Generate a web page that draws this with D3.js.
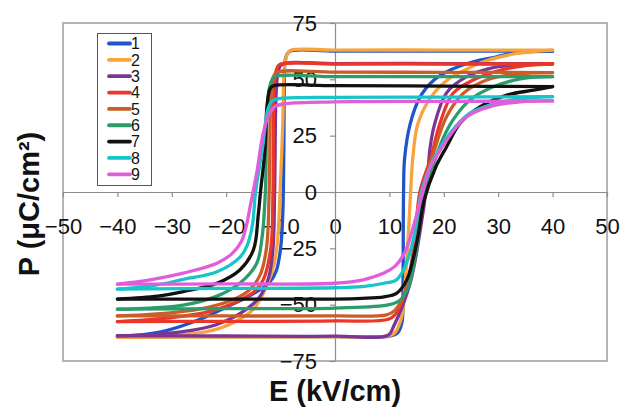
<!DOCTYPE html>
<html>
<head>
<meta charset="utf-8">
<title>P-E hysteresis loops</title>
<style>
body{margin:0;background:#fff;}
svg{display:block;font-family:Arial,"Liberation Sans",sans-serif;}
.frame{fill:none;stroke:#b4b4b4;stroke-width:2;}
.axis path,.axis line{stroke:#8c8c8c;stroke-width:1.2;}
.axis text{font-size:22px;fill:#111;}
.title{font-size:29px;font-weight:bold;fill:#111;}
.legend text{font-size:16px;fill:#111;}
.loop{fill:none;stroke-width:3.3;stroke-linejoin:round;stroke-linecap:round;}
</style>
<script src="https://d3js.org/d3.v7.min.js"></script>
</head>
<body>
<svg id="chart" width="621" height="409"></svg>
<script>
// sample names (legend)
var names = ["1","2","3","4","5","6","7","8","9"];
var xTicks = [-50,-40,-30,-20,-10,0,10,20,30,40,50];
var yTicks = [-75,-50,-25,0,25,50,75];

// each loop: "down" = field going +40 -> -40, "up" = field going -40 -> +40, points [E, P]
var down1 = [[40,62.5],[20,62.5],[0,62.5],[-8.4,62.3],[-9.1,59],[-9.3,50],[-9.4,20],[-9.6,-10],[-10,-25],[-10.8,-35],[-12,-40],[-15.6,-46],[-19.9,-51],[-24.8,-56.5],[-31,-61.5],[-37,-63.8],[-40,-64.2]];
var up1   = [[-40,-64.2],[-20,-64.2],[0,-64.2],[10,-64],[11.5,-62.5],[12.3,-58],[12.5,-40],[12.6,0],[12.8,15],[13.8,30],[15.6,42],[18.1,49.5],[21.1,54],[25.4,57.8],[29.7,60],[32.7,61.6],[40,62.5]];
var down2 = [[40,63],[20,63],[0,63],[-8.2,62.8],[-8.8,61],[-9.3,55],[-9.6,30],[-10.1,0],[-10.5,-20],[-11.2,-32],[-12.6,-42],[-15,-52],[-18.7,-58],[-23.6,-62],[-31,-63.6],[-40,-64.5]];
var up2   = [[-40,-64.5],[-20,-64.4],[0,-64.3],[9.5,-64],[11,-62.5],[12.3,-55],[12.9,-40],[13.5,-18],[13.9,0],[14.3,15],[15.2,30],[17.6,42],[20.8,50],[23.8,54],[27.5,58],[33.5,61.5],[40,63]];
var down3 = [[40,57],[20,57],[0,57],[-9.8,56.6],[-10.4,54],[-10.8,45],[-11.1,0],[-11.4,-25],[-12.2,-38],[-14,-47],[-17.5,-54],[-22,-59],[-28,-62],[-34,-63.3],[-40,-63.8]];
var up3   = [[-40,-63.8],[-20,-63.9],[0,-64],[9.8,-63.5],[10.7,-60],[13.8,-40.5],[15.6,-18],[16.9,4],[17.5,20],[18.3,30],[20.5,44],[24.2,51.2],[28.5,54.9],[34,56.6],[40,57]];
var down4 = [[40,56.8],[20,56.8],[0,56.8],[-10.2,56.5],[-10.8,54],[-11.2,45],[-11.4,0],[-11.8,-25],[-13.2,-39],[-15,-44.5],[-17.5,-48],[-23,-53],[-31,-56],[-40,-57.5]];
var up4   = [[-40,-57.5],[-20,-57.4],[0,-57.2],[9.8,-56.5],[11.2,-54],[12.8,-45],[14.5,-25],[15.6,0],[17.6,15],[19.3,30.5],[21.7,43.8],[25.4,49.7],[30.3,54],[35.3,56.2],[40,56.8]];
var down5 = [[40,53],[20,53.1],[0,53.2],[-10.8,53],[-11.4,50.5],[-11.8,42],[-12.1,0],[-12.6,-25],[-13.8,-37],[-16,-44],[-19.5,-48.5],[-25,-52],[-32,-54],[-40,-55]];
var up5   = [[-40,-55],[-20,-55],[0,-55],[9.5,-54.5],[11,-52.5],[13,-44],[15,-22],[16.2,0],[18.2,18],[20.5,33.4],[23.6,43.8],[27.9,49.7],[34,52.5],[40,53]];
var down6 = [[40,51.2],[20,51.2],[0,51.2],[-11.2,51],[-11.8,48.5],[-12.4,40],[-12.8,0],[-13.4,-20],[-14.4,-31.7],[-17.5,-40.5],[-21.7,-46.2],[-27.9,-50.2],[-34,-51.5],[-40,-52]];
var up6   = [[-40,-52],[-20,-51.8],[0,-51.5],[10,-50],[12,-47.9],[13.5,-42],[15,-25],[16.4,0],[18.2,13],[19.9,24],[21.7,32],[24.8,40.8],[29.1,46.7],[34.6,50.4],[40,51.2]];
var down7 = [[40,46.8],[20,47],[0,47.2],[-11.2,47.2],[-11.9,46],[-12.5,38],[-12.9,18],[-13.7,0],[-14.1,-10],[-15,-25.7],[-17.5,-34.6],[-21.7,-40.5],[-27.9,-44.2],[-32.6,-46.2],[-40,-47.5]];
var up7   = [[-40,-47.5],[-20,-47.5],[0,-47.5],[5,-47.2],[9,-46.5],[11.3,-45],[13.2,-39],[15,-22.8],[16.4,-3.6],[18.5,11],[20.5,20],[23,30.5],[26.7,37.9],[31.6,43],[36.5,45.2],[40,46.8]];
var down8 = [[40,42.3],[20,42.1],[0,42],[-10,41.5],[-11.5,40.5],[-12.3,37],[-13.3,20],[-14.6,0],[-15.2,-15],[-16.2,-24],[-17.5,-29],[-21.7,-35.4],[-27.9,-38.8],[-34,-41.8],[-40,-43.1]];
var up8   = [[-40,-43.1],[-20,-42.8],[0,-42.5],[5,-42],[9,-40.5],[11.3,-39],[12.9,-33],[14.5,-20],[15.9,0],[17.6,12],[19.5,20],[21.1,26],[24.8,35],[29.7,39.4],[34.6,41.5],[40,42.3]];
var down9 = [[40,40.4],[20,40.2],[0,40],[-9,39.2],[-11,38],[-12.2,34],[-13.2,26],[-14.4,8.3],[-15.6,-6.5],[-16.2,-14],[-17.2,-22],[-19,-27.5],[-21.7,-31.6],[-27.9,-36],[-34,-39],[-40,-40.9]];
var up9   = [[-40,-40.9],[-20,-40.8],[0,-40.5],[5.2,-39],[9,-36],[11,-33],[12.8,-27],[14.4,-15.4],[15.9,-2],[17.5,11],[19.2,18],[21.1,25],[24.2,33.4],[28.5,37.9],[34,40],[40,40.4]];

var downs = [down1,down2,down3,down4,down5,down6,down7,down8,down9];
var ups   = [up1,up2,up3,up4,up5,up6,up7,up8,up9];
var colors = ["#1f55c8","#f7a43e","#7b3597","#ec3629","#cb5e28","#2a9d6b","#111111","#17c5c9","#e25ddb"];

var svg = d3.select("#chart");
var plotL = 63, plotR = 607, plotT = 23, plotB = 361;

var x = d3.scaleLinear().domain([-50,50]).range([plotL,plotR]);
var y = d3.scaleLinear().domain([-75,75]).range([plotB,plotT]);

// plot area frame
svg.append("rect").attr("class","frame")
	.attr("x",plotL).attr("y",plotT)
	.attr("width",plotR-plotL).attr("height",plotB-plotT);

// axes crossing at 0
svg.append("g").attr("class","axis")
	.attr("transform","translate(0," + y(0) + ")")
	.call(d3.axisBottom(x).tickValues(xTicks).tickSize(5).tickSizeOuter(0).tickPadding(21));

svg.append("g").attr("class","axis")
	.attr("transform","translate(" + x(0) + ",0)")
	.call(d3.axisLeft(y).tickValues(yTicks).tickSize(5).tickSizeOuter(0).tickPadding(13));

svg.selectAll(".axis").attr("font-family",null).attr("font-size",null);

// loops
var line = d3.line()
	.x(function(d){ return x(d[0]); })
	.y(function(d){ return y(d[1]); })
	.curve(d3.curveCatmullRom.alpha(0.5));

var g = svg.append("g");
names.forEach(function(n,i){
	g.append("path").attr("class","loop").attr("stroke",colors[i]).attr("d",line(downs[i]));
	g.append("path").attr("class","loop").attr("stroke",colors[i]).attr("d",line(ups[i]));
});

// legend
var lg = svg.append("g").attr("class","legend");
lg.append("rect").attr("x",97.5).attr("y",33.5).attr("width",54).attr("height",152)
	.attr("fill","#fff").attr("stroke","#555").attr("stroke-width",1);
var row = lg.selectAll("g.row").data(names).enter().append("g")
	.attr("transform",function(d,i){ return "translate(0," + (43.5 + i*16.35) + ")"; });
row.append("line").attr("x1",109).attr("x2",130).attr("y1",0).attr("y2",0)
	.attr("stroke",function(d,i){ return colors[i]; })
	.attr("stroke-width",3.8).attr("stroke-linecap","round");
row.append("text").attr("x",131).attr("y",0).attr("dy","0.36em").text(function(d){ return d; });

// axis titles
svg.append("text").attr("class","title")
	.attr("x",x(0)).attr("y",401).attr("text-anchor","middle")
	.text("E (kV/cm)");
svg.append("text").attr("class","title")
	.attr("transform","translate(39,204) rotate(-90)").attr("text-anchor","middle")
	.text("P (μC/cm²)");
</script>
</body>
</html>
